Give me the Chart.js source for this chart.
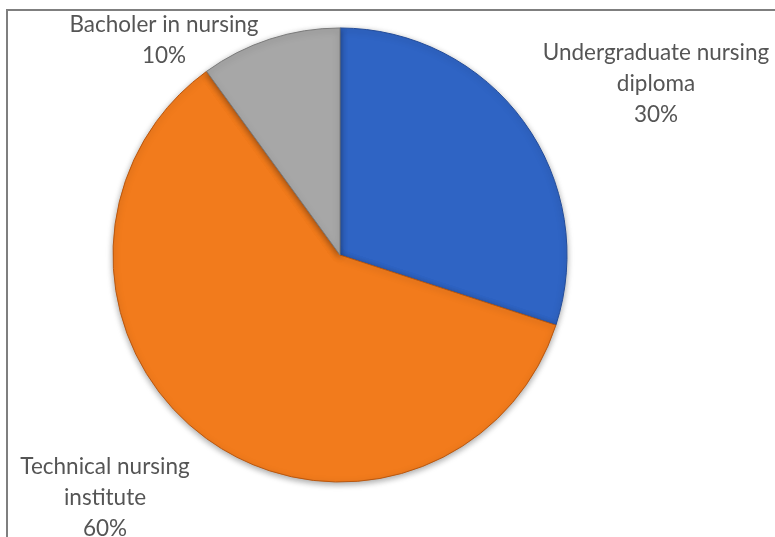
<!DOCTYPE html>
<html>
<head>
<meta charset="utf-8">
<script src="https://cdn.jsdelivr.net/npm/chart.js@4"></script>
<style>
  html, body { margin: 0; padding: 0; background: #ffffff; }
  #wrap { position: relative; width: 775px; height: 537px; overflow: hidden; }
  #frame { position: absolute; left: 6px; top: 9px; width: 800px; height: 600px;
           border-left: 2px solid #7f7f7f; border-top: 2px solid #7f7f7f; box-sizing: border-box; }
  canvas { position: absolute; left: 0; top: 0; }
</style>
</head>
<body>
<div id="wrap">
  <div id="frame"></div>
  <canvas id="c" width="775" height="537"></canvas>
</div>
<script>
// Nursing qualification categories and their shares (%)
const categories = [
  ['Undergraduate nursing', 'diploma'],
  ['Technical nursing', 'institute'],
  ['Bacholer in nursing']
];
const shares = [30, 60, 10];
const sliceColors = ['#2f64c4', '#f27b1c', '#a7a7a7'];
const sliceEdges = ['#234c99', '#b9570f', '#7b7b7b'];

// Where each category label block is centred (canvas px)
const labelAnchors = [
  { x: 656, y: 53 },
  { x: 105, y: 467 },
  { x: 164, y: 25 }
];

const labelPlugin = {
  id: 'sliceLabels',
  afterDraw(chart) {
    const ctx = chart.ctx;
    const ds = chart.data.datasets[0];
    ctx.save();
    ctx.font = '22.5px Lato, "Open Sans", sans-serif';
    ctx.fillStyle = '#555555';
    ctx.textAlign = 'center';
    ctx.textBaseline = 'middle';
    chart.data.labels.forEach((lines, i) => {
      const a = labelAnchors[i];
      const all = lines.concat([ds.data[i] + '%']);
      all.forEach((t, k) => ctx.fillText(t, a.x, a.y + k * 31));
    });
    ctx.restore();
  }
};

const shadowPlugin = {
  id: 'pieShadow',
  beforeDatasetDraw(chart) {
    const ctx = chart.ctx;
    ctx.save();
    ctx.shadowColor = 'rgba(0,0,0,0.35)';
    ctx.shadowBlur = 6;
    ctx.shadowOffsetY = 2;
  },
  afterDatasetDraw(chart) {
    chart.ctx.restore();
  }
};

new Chart(document.getElementById('c'), {
  type: 'pie',
  data: {
    labels: categories,
    datasets: [{
      data: shares,
      backgroundColor: sliceColors,
      borderColor: sliceEdges,
      borderWidth: 1,
      radius: 227
    }]
  },
  options: {
    responsive: false,
    animation: false,
    layout: { padding: { left: 0, right: 95, top: 0, bottom: 27 } },
    plugins: { legend: { display: false }, tooltip: { enabled: false } }
  },
  plugins: [shadowPlugin, labelPlugin]
});
</script>
</body>
</html>
